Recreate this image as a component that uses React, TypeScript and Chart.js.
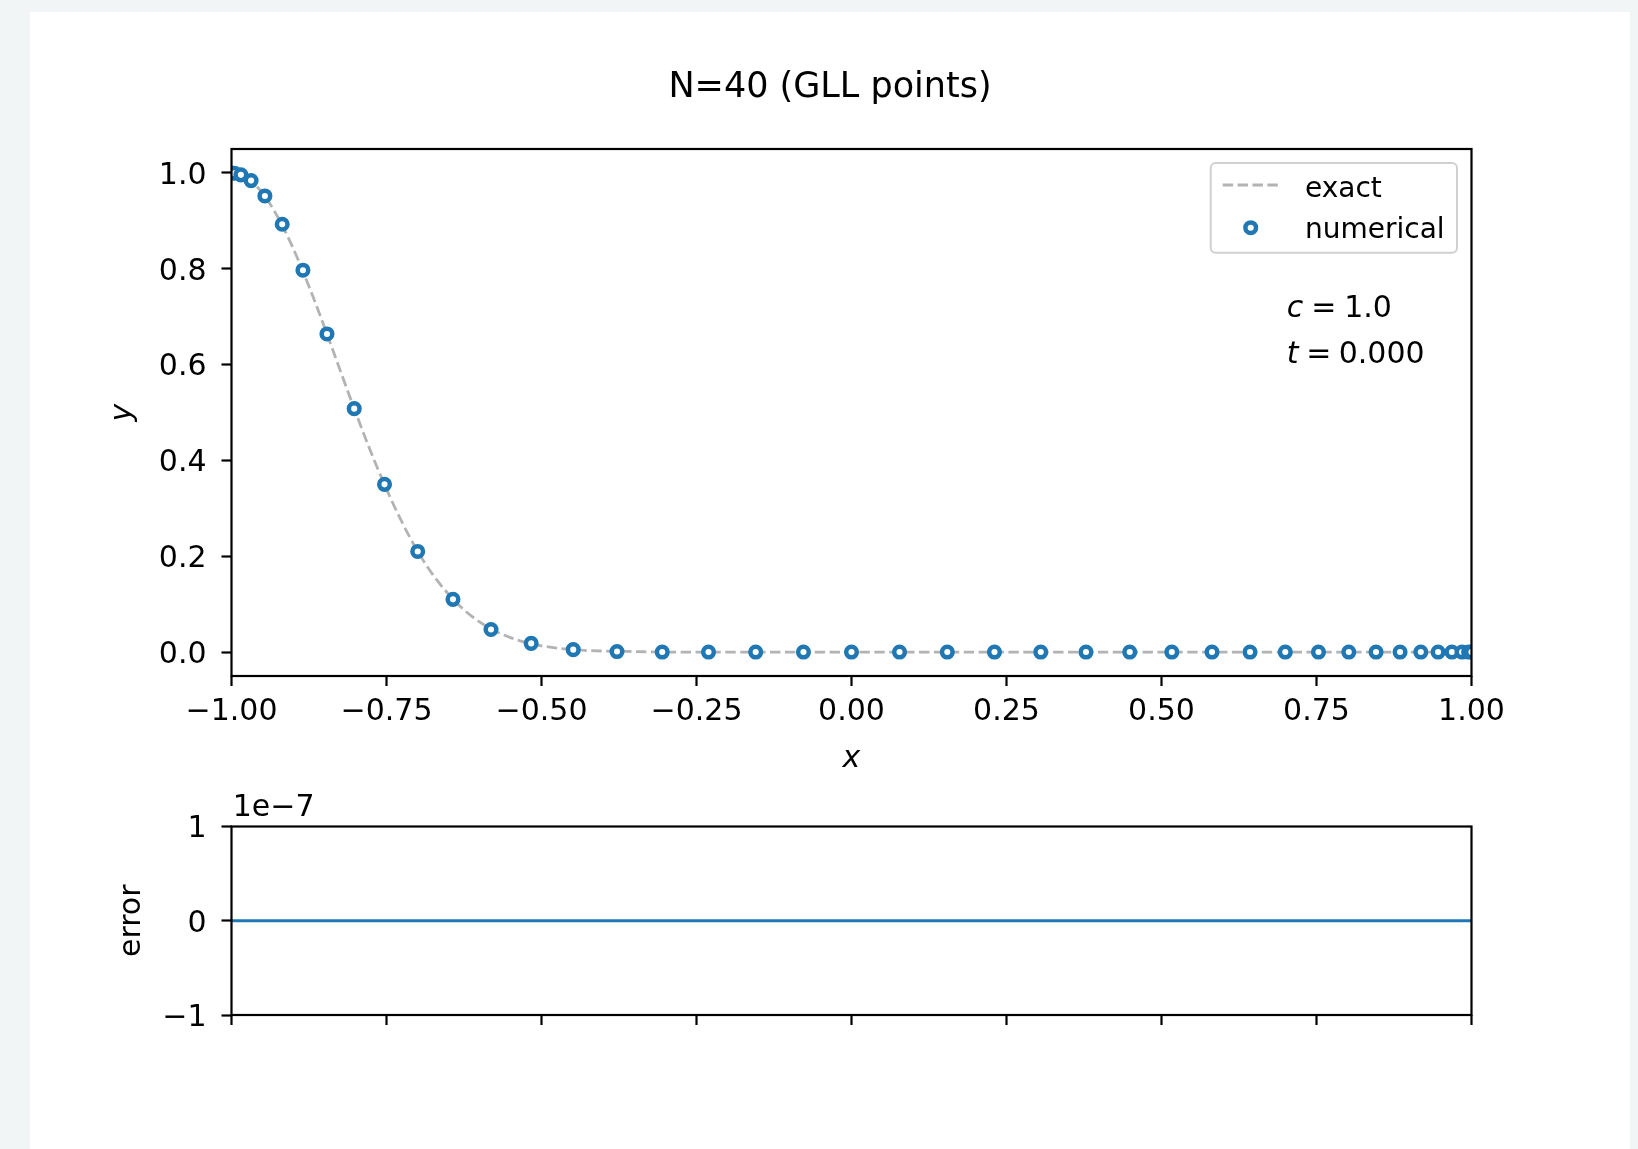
import React, { useEffect, useRef } from "react";
import { Chart, registerables } from "chart.js";

Chart.register(...registerables);

const FONT = "'DejaVu Sans', 'Liberation Sans', sans-serif";
const BLUE = "#1f77b4";
const EXACT_COLOR = "rgba(128,128,128,0.6)";
const INK = "#000000";
const LABEL_SIZE = 30;
const LEGEND_SIZE = 28;
const TITLE_SIZE = 35;
const MARKER_RADIUS = 5.3;
const MARKER_EDGE = 4.5;

const TITLE = "N=40 (GLL points)";
const EXACT_LABEL = "exact";
const NUMERICAL_LABEL = "numerical";
const ERROR_OFFSET_TEXT = "1e\u22127";

// Gauss-Lobatto-Legendre nodes, N = 40
const gllNodes = [
  -1, -0.9953, -0.98481, -0.96839, -0.94615, -0.91822, -0.88478, -0.84601,
  -0.80208, -0.75319, -0.69966, -0.64279, -0.58145, -0.51665, -0.44879,
  -0.37822, -0.30528, -0.23061, -0.15451, -0.07749, 0, 0.07749, 0.15451,
  0.23061, 0.30528, 0.37822, 0.44879, 0.51665, 0.58145, 0.64279, 0.69966,
  0.75319, 0.80208, 0.84601, 0.88478, 0.91822, 0.94615, 0.96839, 0.98481,
  0.9953, 1,
];

// numerical solution at the nodes
const numericalY = [
  1.0, 0.9995, 0.996, 0.984, 0.952, 0.893, 0.797, 0.664, 0.508, 0.35, 0.21,
  0.11, 0.047, 0.018, 0.005, 0.001, 0.0, 0, 0, 0, 0, 0, 0, 0, 0, 0, 0, 0, 0,
  0, 0, 0, 0, 0, 0, 0, 0, 0, 0, 0, 0,
];

// exact profile sampled along x
const exactX = [
  -1, -0.975, -0.95, -0.925, -0.9, -0.875, -0.85, -0.825, -0.8, -0.775, -0.75,
  -0.725, -0.7, -0.675, -0.65, -0.625, -0.6, -0.575, -0.55, -0.525, -0.5,
  -0.45, -0.4, -0.35, -0.3, 1.0,
];
const exactY = [
  1.0, 0.989, 0.958, 0.907, 0.841, 0.763, 0.678, 0.589, 0.501, 0.417, 0.34,
  0.271, 0.211, 0.161, 0.121, 0.088, 0.063, 0.044, 0.03, 0.02, 0.013, 0.005,
  0.002, 0.001, 0.0, 0.0,
];

// pointwise error (numerical - exact)
const errorY = [
  0, 0, 0, 0, 0, 0, 0, 0, 0, 0, 0, 0, 0, 0, 0, 0, 0, 0, 0, 0, 0, 0, 0, 0, 0, 0,
  0, 0, 0, 0, 0, 0, 0, 0, 0, 0, 0, 0, 0, 0, 0,
];

const xTicks = [-1, -0.75, -0.5, -0.25, 0, 0.25, 0.5, 0.75, 1];
const yTicks = [0, 0.2, 0.4, 0.6, 0.8, 1.0];
const ERR_UNIT = 1e-7;
const errTicks = [-1e-7, 0, 1e-7];

const params = [
  { sym: "c", value: "1.0" },
  { sym: "t", value: "0.000" },
];

const fmt = (v: number, digits: number) =>
  (v < 0 ? "\u2212" : "") + Math.abs(v).toFixed(digits);

const font = (size: number, style: string = "normal") =>
  `${style} normal ${size}px ${FONT}`;

function roundRectPath(ctx: CanvasRenderingContext2D, x: number, y: number, w: number, h: number, r: number) {
  ctx.beginPath();
  ctx.moveTo(x + r, y);
  ctx.lineTo(x + w - r, y);
  ctx.arcTo(x + w, y, x + w, y + r, r);
  ctx.lineTo(x + w, y + h - r);
  ctx.arcTo(x + w, y + h, x + w - r, y + h, r);
  ctx.lineTo(x + r, y + h);
  ctx.arcTo(x, y + h, x, y + h - r, r);
  ctx.lineTo(x, y + r);
  ctx.arcTo(x, y, x + r, y, r);
  ctx.closePath();
}

// axes frame (all four spines) drawn above the data
const framePlugin = {
  id: "frame",
  afterDatasetsDraw(chart: any) {
    const { ctx, chartArea: ca } = chart;
    ctx.save();
    ctx.strokeStyle = INK;
    ctx.lineWidth = 2.2;
    ctx.strokeRect(ca.left, ca.top, ca.right - ca.left, ca.bottom - ca.top);
    ctx.restore();
  },
};

const tickGrid = {
  display: true,
  drawOnChartArea: false,
  drawTicks: true,
  tickLength: 10,
  tickWidth: 2.2,
  tickColor: INK,
};

// title, legend box and parameter annotation of the solution panel
const solutionDecor = {
  id: "solutionDecor",
  afterDraw(chart: any) {
    const { ctx, chartArea: ca } = chart;
    ctx.save();

    // figure title
    ctx.fillStyle = INK;
    ctx.font = font(TITLE_SIZE);
    ctx.textAlign = "center";
    ctx.textBaseline = "alphabetic";
    ctx.fillText(TITLE, chart.width / 2, 84.7);

    // legend
    const bw = 246.3;
    const bh = 89.7;
    const bx = ca.right - 14.5 - bw;
    const by = ca.top + 14;
    roundRectPath(ctx, bx, by, bw, bh, 5);
    ctx.fillStyle = "rgba(255,255,255,0.8)";
    ctx.fill();
    ctx.strokeStyle = "#d0d0d0";
    ctx.lineWidth = 2;
    ctx.stroke();

    ctx.beginPath();
    ctx.setLineDash([10.4, 4.5]);
    ctx.strokeStyle = EXACT_COLOR;
    ctx.lineWidth = 2.8;
    ctx.moveTo(bx + 12, by + 22);
    ctx.lineTo(bx + 68.6, by + 22);
    ctx.stroke();
    ctx.setLineDash([]);

    ctx.beginPath();
    ctx.arc(bx + 40, by + 64.7, MARKER_RADIUS, 0, Math.PI * 2);
    ctx.fillStyle = "#ffffff";
    ctx.fill();
    ctx.strokeStyle = BLUE;
    ctx.lineWidth = MARKER_EDGE;
    ctx.stroke();

    ctx.fillStyle = INK;
    ctx.font = font(LEGEND_SIZE);
    ctx.textAlign = "left";
    ctx.fillText(EXACT_LABEL, bx + 94.3, by + 33.7);
    ctx.fillText(NUMERICAL_LABEL, bx + 94.3, by + 74.7);

    // c and t annotation
    const x0 = ca.right - 184.8;
    const rows = [
      { y: ca.top + 167.7, eq: 24.5, val: 57.5 },
      { y: ca.top + 214.3, eq: 19.5, val: 52 },
    ];
    params.forEach((p, i) => {
      const r = rows[i];
      ctx.font = font(LABEL_SIZE, "italic");
      ctx.fillText(p.sym, x0, r.y);
      ctx.font = font(LABEL_SIZE);
      ctx.fillText("=", x0 + r.eq, r.y);
      ctx.fillText(p.value, x0 + r.val, r.y);
    });

    ctx.restore();
  },
};

// scale offset text of the error panel
const errorDecor = {
  id: "errorDecor",
  afterDraw(chart: any) {
    const { ctx, chartArea: ca } = chart;
    ctx.save();
    ctx.fillStyle = INK;
    ctx.font = font(LABEL_SIZE);
    ctx.textAlign = "left";
    ctx.textBaseline = "alphabetic";
    ctx.fillText(ERROR_OFFSET_TEXT, ca.left + 1.2, ca.top - 10.5);
    ctx.restore();
  },
};

export default function App() {
  const topRef = useRef<HTMLCanvasElement | null>(null);
  const bottomRef = useRef<HTMLCanvasElement | null>(null);

  useEffect(() => {
    if (!topRef.current || !bottomRef.current) return;

    const solution = new Chart(topRef.current, {
      type: "line",
      data: {
        datasets: [
          {
            label: NUMERICAL_LABEL,
            data: gllNodes.map((x, i) => ({ x, y: numericalY[i] })),
            showLine: false,
            pointStyle: "circle",
            pointRadius: MARKER_RADIUS,
            pointBorderWidth: MARKER_EDGE,
            pointBorderColor: BLUE,
            pointBackgroundColor: "#ffffff",
            borderColor: BLUE,
            order: 0,
            clip: 0,
          },
          {
            label: EXACT_LABEL,
            data: exactX.map((x, i) => ({ x, y: exactY[i] })),
            borderColor: EXACT_COLOR,
            borderWidth: 2.8,
            borderDash: [10.4, 4.5],
            cubicInterpolationMode: "monotone",
            pointRadius: 0,
            fill: false,
            order: 1,
            clip: 0,
          },
        ],
      },
      options: {
        responsive: false,
        animation: false,
        devicePixelRatio: 1,
        events: [],
        layout: { padding: { top: 137, right: 158.5, left: 0, bottom: 0 } },
        plugins: {
          legend: { display: false },
          tooltip: { enabled: false },
          title: { display: false },
        },
        scales: {
          x: {
            type: "linear",
            min: -1,
            max: 1,
            afterBuildTicks: (s: any) => {
              s.ticks = xTicks.map((value) => ({ value }));
            },
            afterFit: (s: any) => {
              s.height = 106;
            },
            ticks: {
              callback: (v: any) => fmt(Number(v), 2),
              color: INK,
              font: { family: FONT, size: LABEL_SIZE },
              padding: 8.3,
              maxRotation: 0,
              autoSkip: false,
            },
            grid: tickGrid,
            border: { display: false },
            title: {
              display: true,
              text: "x",
              color: INK,
              font: { family: FONT, size: LABEL_SIZE, style: "italic" },
              padding: { top: 0, bottom: 5.2 },
            },
          },
          y: {
            type: "linear",
            min: -0.05,
            max: 1.05,
            afterBuildTicks: (s: any) => {
              s.ticks = yTicks.map((value) => ({ value }));
            },
            afterFit: (s: any) => {
              s.width = 201.5;
            },
            ticks: {
              callback: (v: any) => fmt(Number(v), 1),
              color: INK,
              font: { family: FONT, size: LABEL_SIZE },
              padding: 15,
              labelOffset: 3,
            },
            grid: tickGrid,
            border: { display: false },
            title: {
              display: true,
              text: "y",
              color: INK,
              font: { family: FONT, size: LABEL_SIZE, style: "italic" },
              padding: { top: 75, bottom: 0 },
            },
          },
        },
      },
      plugins: [framePlugin, solutionDecor],
    } as any);

    const error = new Chart(bottomRef.current, {
      type: "line",
      data: {
        datasets: [
          {
            label: "error",
            data: gllNodes.map((x, i) => ({ x, y: errorY[i] })),
            borderColor: BLUE,
            borderWidth: 3,
            pointRadius: 0,
            fill: false,
            clip: 0,
          },
        ],
      },
      options: {
        responsive: false,
        animation: false,
        devicePixelRatio: 1,
        events: [],
        layout: { padding: { top: 44.5, right: 158.5, left: 0, bottom: 0 } },
        plugins: {
          legend: { display: false },
          tooltip: { enabled: false },
          title: { display: false },
        },
        scales: {
          x: {
            type: "linear",
            min: -1,
            max: 1,
            afterBuildTicks: (s: any) => {
              s.ticks = xTicks.map((value) => ({ value }));
            },
            afterFit: (s: any) => {
              s.height = 134;
            },
            ticks: { display: false },
            grid: tickGrid,
            border: { display: false },
          },
          y: {
            type: "linear",
            min: errTicks[0],
            max: errTicks[errTicks.length - 1],
            afterBuildTicks: (s: any) => {
              s.ticks = errTicks.map((value) => ({ value }));
            },
            afterFit: (s: any) => {
              s.width = 201.5;
            },
            ticks: {
              callback: (v: any) => fmt(Math.round(Number(v) / ERR_UNIT), 0),
              color: INK,
              font: { family: FONT, size: LABEL_SIZE },
              padding: 15,
              labelOffset: 3,
            },
            grid: tickGrid,
            border: { display: false },
            title: {
              display: true,
              text: "error",
              color: INK,
              font: { family: FONT, size: LABEL_SIZE },
              padding: { top: 84.5, bottom: 0 },
            },
          },
        },
      },
      plugins: [framePlugin, errorDecor],
    } as any);

    return () => {
      solution.destroy();
      error.destroy();
    };
  }, []);

  return (
    <div
      style={{
        position: "absolute",
        left: 0,
        top: 0,
        width: 1638,
        height: 1149,
        background: "#f2f5f6",
        overflow: "hidden",
      }}
    >
      <div
        style={{
          position: "absolute",
          left: 30,
          top: 12,
          width: 1600,
          height: 1137,
          background: "#ffffff",
        }}
      >
        <canvas
          ref={topRef}
          width={1600}
          height={770}
          style={{ position: "absolute", left: 0, top: 0, width: 1600, height: 770 }}
        />
        <canvas
          ref={bottomRef}
          width={1600}
          height={367}
          style={{ position: "absolute", left: 0, top: 770, width: 1600, height: 367 }}
        />
      </div>
    </div>
  );
}
